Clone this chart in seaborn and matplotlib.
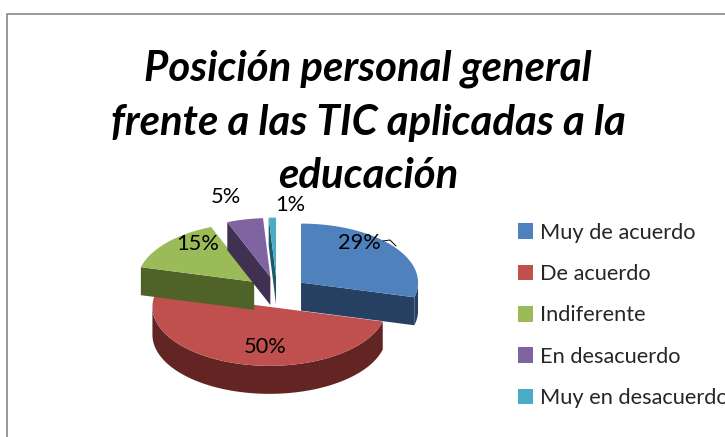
import numpy as np
import matplotlib
matplotlib.use("Agg")
import matplotlib.pyplot as plt
from matplotlib.patches import Patch
import seaborn as sns

title = "Posición personal general\nfrente a las TIC aplicadas a la\neducación"
categories = ["Muy de acuerdo", "De acuerdo", "Indiferente", "En desacuerdo", "Muy en desacuerdo"]
values = [29, 50, 15, 5, 1]
top_colors = ["#4F81BD", "#C0504D", "#9BBB59", "#8064A2", "#4BACC6"]
side_colors = ["#254061", "#632523", "#4F6228", "#403152", "#205867"]
pct_labels = ["29%", "50%", "15%", "5%", "1%"]
label_pos = [(359, 243), (265, 347), (198, 244), (226, 197), (290, 205)]

# pie layout, in pixels
cx, cy = 277, 292
rx, ry = 117, 59
depth = 28
explode = 0.26

sns.set_theme(style="white")
plt.rcParams["font.family"] = ["Lato", "DejaVu Sans"]

fig = plt.figure(figsize=(7.25, 4.37), dpi=100)
ax = fig.add_axes([0, 0, 1, 1])
ax.set_xlim(0, 725)
ax.set_ylim(437, 0)
ax.axis("off")


def rim(t, x0, y0):
    # t is clockwise from the top of the pie
    return x0 + rx * np.sin(t), y0 - ry * np.cos(t)


fractions = np.array(values) / sum(values)
ends = np.cumsum(fractions) * 2 * np.pi
starts = ends - fractions * 2 * np.pi

slices = []
for i in range(len(values)):
    mid = (starts[i] + ends[i]) / 2
    x0 = cx + explode * rx * np.sin(mid)
    y0 = cy - explode * ry * np.cos(mid)
    slices.append((i, starts[i], ends[i], x0, y0))

# back to front
for i in [4, 3, 2, 0, 1]:
    _, a, b, x0, y0 = [s for s in slices if s[0] == i][0]
    side = side_colors[i]

    # flat cut faces that look at the viewer
    for t, seen in [(a, np.sin(a) < -1e-6), (b, np.sin(b) > 1e-6)]:
        if seen:
            xe, ye = rim(t, x0, y0)
            ax.fill([x0, xe, xe, x0], [y0, ye, ye + depth, y0 + depth], color=side, lw=0, zorder=i + 1)

    # outer wall, front half only
    lo, hi = max(a, np.pi / 2), min(b, 3 * np.pi / 2)
    if hi > lo:
        t = np.linspace(lo, hi, 80)
        xw, yw = rim(t, x0, y0)
        ax.fill(np.r_[xw, xw[::-1]], np.r_[yw, yw[::-1] + depth], color=side, lw=0, zorder=i + 1)

    t = np.linspace(a, b, 120)
    xt, yt = rim(t, x0, y0)
    ax.fill(np.r_[x0, xt], np.r_[y0, yt], color=top_colors[i], lw=0, zorder=i + 1)

z_top = 10
for text, (x, y) in zip(pct_labels, label_pos):
    ax.text(x, y, text, ha="center", va="center", fontsize=15.7, color="black", zorder=z_top)

# leader line of the 29% label
ax.plot([383, 390, 396], [241, 240, 246], color="black", lw=0.7, zorder=z_top)

ax.text(368, 122.5, title, ha="center", va="center", fontsize=30.2, fontweight="bold",
        fontstyle="italic", color="black", linespacing=1.5, zorder=z_top)

# chart frame runs off the picture on the right and at the bottom
ax.plot([7, 7, 725], [437, 14, 14], color="#868686", lw=1.2, zorder=0)

handles = [Patch(facecolor=c, edgecolor="none") for c in top_colors]
leg = ax.legend(handles, categories, loc="upper left", bbox_to_anchor=(509, 214),
                bbox_transform=ax.transData, frameon=False, fontsize=15.7, handlelength=0.72,
                handleheight=0.72, handletextpad=0.3, labelspacing=0.98, borderpad=0.4, borderaxespad=0)

fig.savefig("out.png", dpi=100)
